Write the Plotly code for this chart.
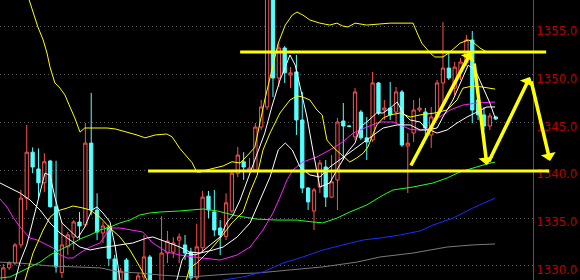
import plotly.graph_objects as go

# ---------------- candle data (index 0..84) ----------------
opens = [1328.3,1329.8,1330.3,1332.2,1337.1,1341.9,1340.15,1338.7,1340.98,1336.2,
         1329.3,1332.0,1333.03,1334.6,1334.3,1342.85,1335.85,1333.45,1334.07,1330.73,
         1328.3,1330.62,1327.7,1327.9,1328.85,1330.94,1327.5,1328.2,1331.35,1331.45,
         1332.7,1332.2,1331.45,1328.75,1331.9,1337.3,1335.65,1333.97,1333.1,1335.75,
         1339.7,1340.9,1340.04,1340.04,1344.53,1346.63,1358.87,1349.66,1352.8,1349.97,
         1350.3,1345.27,1338.15,1335.75,1338.26,1340.35,1337.2,1338.99,1345.16,1344.64,
         1343.5,1346.1,1343.4,1343.18,1349.14,1346.31,1346.52,1346.1,1348.2,1342.55,
         1343.9,1346.31,1346.1,1343.7,1345.58,1349.14,1350.7,1348.6,1350.3,1351.23,
         1353.64,1347.36,1345.8,1344.64,1345.58]
highs = [1330.2,1330.5,1332.4,1337.95,1344.75,1342.4,1342.3,1341.8,1341.1,1341.0,
         1334.6,1333.55,1334.8,1335.65,1344.95,1348.1,1337.6,1334.6,1334.3,1331.15,
         1329.8,1330.83,1327.9,1329.3,1333.24,1331.15,1328.2,1335.2,1333.66,1333.0,
         1333.4,1333.24,1331.9,1334.4,1337.85,1337.85,1337.95,1334.8,1337.6,1340.04,
         1342.45,1341.9,1341.3,1344.95,1347.36,1359.4,1359.4,1353.3,1353.0,1350.8,
         1352.07,1348.2,1338.26,1338.15,1341.08,1341.08,1341.6,1345.48,1347.05,1344.75,
         1348.6,1346.31,1345.58,1350.3,1349.24,1347.36,1349.24,1348.72,1348.4,1343.9,
         1347.36,1347.57,1346.52,1346.63,1349.45,1355.5,1352.28,1351.33,1351.75,1354.16,
         1354.58,1347.67,1346.63,1346.0,1345.7]
lows = [1328.1,1329.6,1330.1,1331.9,1335.85,1339.7,1337.1,1337.75,1336.1,1329.3,
        1328.75,1331.15,1331.67,1332.7,1334.1,1335.3,1332.7,1332.4,1330.0,1328.0,
        1328.0,1327.5,1326.7,1327.7,1328.43,1327.5,1327.3,1328.0,1330.3,1330.83,
        1330.3,1330.62,1328.3,1328.43,1331.45,1335.0,1333.1,1331.15,1332.7,1335.5,
        1339.3,1339.0,1339.8,1339.8,1344.22,1346.31,1347.67,1348.72,1349.14,1348.6,
        1343.7,1337.63,1335.85,1333.76,1337.63,1336.17,1337.1,1335.85,1341.08,1344.5,
        1343.18,1343.18,1341.08,1342.97,1345.8,1345.27,1345.27,1344.95,1342.45,1337.63,
        1342.97,1346.1,1343.18,1342.34,1345.27,1347.05,1349.45,1347.88,1349.45,1350.92,
        1344.95,1345.27,1344.22,1344.22,1345.27]
closes = [1329.8,1330.3,1332.2,1337.1,1341.9,1340.35,1338.7,1340.9,1336.2,1329.9,
          1332.2,1333.25,1334.6,1334.18,1342.85,1335.85,1333.55,1334.18,1330.8,1328.3,
          1329.47,1328.0,1327.0,1328.95,1330.94,1328.0,1328.1,1331.35,1332.6,1332.4,
          1333.03,1331.35,1328.75,1332.0,1337.2,1335.85,1333.76,1333.24,1336.6,1339.7,
          1341.6,1340.35,1340.25,1344.53,1346.63,1358.87,1349.66,1352.8,1350.2,1350.2,
          1345.27,1338.15,1336.7,1337.95,1340.77,1337.2,1338.8,1345.06,1344.64,1344.6,
          1348.2,1343.4,1342.97,1349.14,1346.0,1346.52,1345.8,1348.2,1342.65,1342.85,
          1346.31,1346.52,1344.43,1345.58,1349.14,1350.7,1349.66,1350.8,1351.33,1353.64,
          1346.31,1345.8,1344.64,1345.69,1345.37]
idx = list(range(len(opens)))

# ---------------- indicator lines (x in candle-index units) ----------------
upper_x = [3,4.4,5.07,5.9,6.8,7.45,7.97,8.8,9.67,10.5,11.38,12.2,13.08,13.9,16.0,17.7,19.1,21.1,22.8,24.2,
           25.9,27.9,28.8,30.1,31.3,32.2,33.0,33.6,34.7,37.5,39.0,40.4,41.7,42.9,44.6,45.8,46.9,48.1,49.3,50.1,
           51.1,52.3,54.0,55.7,56.9,57.9,58.8,60.0,62.0,66.0,69.9,70.6,71.4,72.8,73.6,75.0,76.2,77.9,79.3,80.1,
           81.3,82.5,83.9]
upper_y = [1360.5,1357.8,1356.46,1355.0,1353.64,1352.28,1350.8,1349.14,1348.6,1347.9,1346.63,1345.48,1344.0,
           1344.43,1344.43,1344.43,1344.33,1344.0,1343.7,1343.4,1343.7,1343.8,1343.5,1342.3,1341.4,1340.8,1339.83,
           1339.83,1340.04,1340.46,1340.9,1340.77,1341.6,1342.4,1347.36,1350.3,1353.3,1355.2,1356.25,1356.56,
           1356.25,1355.73,1355.4,1355.2,1355.4,1355.1,1355.0,1355.4,1355.2,1355.4,1355.4,1354.37,1353.3,1352.28,
           1351.86,1351.86,1352.38,1353.3,1353.64,1353.43,1352.8,1352.38,1352.38]

mid_x = [2.85,3.7,5.07,6.8,7.97,9.2,10.9,11.9,13.6,14.8,16.5,18.2,19.9,21.6,23.3,24.5,25.9,28.4,30.7,31.8,
         33.0,35.3,37.0,39.0,40.9,42.1,43.3,44.3,45.5,47.2,48.9,50.1,51.1,52.3,53.5,54.4,55.2,56.2,57.4,59.1,
         60.3,61.4,62.2,62.9,63.7,64.8,66.0,67.7,69.4,71.1,73.6,75.7,77.4,78.4,80.1,81.7,83.0,83.9]
mid_y = [1327.5,1328.53,1331.35,1333.76,1335.1,1335.75,1336.06,1336.27,1336.06,1335.85,1335.1,1333.97,1333.03,
         1331.67,1329.9,1328.53,1326.96,1326.4,1327.5,1329.79,1330.3,1331.67,1332.9,1334.5,1335.65,1337.74,1339.5,
         1342.13,1343.9,1346.0,1347.36,1347.78,1347.67,1347.36,1346.31,1345.8,1343.18,1342.45,1341.8,1340.87,
         1341.3,1341.8,1342.45,1343.5,1344.74,1345.48,1345.8,1346.0,1345.58,1345.8,1346.0,1346.31,1347.36,1348.6,
         1348.83,1348.72,1348.6,1348.5]

ma10_x = [-0.56,1.14,2.85,4.55,6.26,7.97,9.67,11.38,13.08,14.8,16.5,19.9,22.1,24.5,25.5,27.9,30.1,31.8,33.6,
          35.8,37.5,39.9,42.1,43.8,45.5,46.9,48.1,49.3,50.6,52.3,54.0,55.7,57.4,59.7,62.0,64.8,67.2,69.4,71.1,
          72.8,74.0,75.7,77.4,79.1,80.8,82.5,83.9]
ma10_y = [1338.68,1338.15,1337.63,1336.9,1335.85,1334.5,1333.45,1332.72,1331.98,1331.67,1331.88,1332.2,1332.4,
          1332.92,1333.03,1332.5,1331.98,1331.46,1331.35,1331.67,1331.98,1333.03,1334.5,1336.9,1339.3,1342.13,
          1342.86,1342.13,1340.35,1339.52,1339.3,1340.35,1341.08,1342.13,1343.18,1344.43,1344.75,1344.75,1344.22,
          1344.22,1343.9,1344.22,1344.95,1345.58,1346.1,1346.63,1346.63]

ma5_x = [1.14,2.0,2.85,4.0,5.07,6.26,7.1,7.97,8.8,10.0,11.7,12.7,13.9,15.1,16.0,17.0,18.2,19.1,19.9,21.1,
         28.4,29.6,30.5,31.3,32.7,33.6,35.3,37.0,38.2,39.2,40.4,41.2,42.6,43.8,44.6,45.8,47.2,48.1,48.9,49.8,
         50.6,51.8,52.8,54.0,55.7,56.9,58.6,60.0,60.9,62.0,63.7,64.8,66.0,67.2,68.2,69.4,71.1,72.3,74.0,75.0,
         76.7,78.4,79.3,80.5,81.8,83.0,83.9]
ma5_y = [1326.46,1328.53,1330.4,1332.2,1334.8,1337.95,1339.7,1339.5,1337.2,1334.5,1333.45,1332.92,1334.07,
         1335.85,1336.17,1335.54,1334.6,1331.98,1328.53,1326.4,1326.4,1328.53,1330.62,1331.35,1331.15,1331.35,
         1332.2,1333.03,1334.6,1335.33,1336.9,1338.26,1340.56,1342.65,1343.9,1346.63,1349.45,1350.8,1352.07,
         1351.0,1348.72,1345.58,1342.13,1338.26,1338.68,1340.04,1341.8,1342.86,1344.53,1345.06,1346.0,1346.0,
         1346.52,1347.15,1346.0,1345.27,1345.06,1344.22,1344.43,1345.58,1347.36,1349.77,1351.0,1350.5,1348.72,
         1347.05,1345.48]

mag_x = [-0.56,0.63,1.65,2.85,4.55,5.75,6.8,8.5,9.67,10.9,11.9,13.08,14.8,16.5,18.2,19.9,23.8,25.5,27.9,30.1,
         32.4,34.1,37.0,39.9,42.1,44.3,46.0,47.2,48.4,49.4,51.1,53.5,55.7,57.9,59.7,62.0,64.3,66.5,69.4,71.1,
         72.8,74.0,76.2,78.4,80.8,83.9]
mag_y = [1337.0,1336.17,1335.1,1334.07,1332.92,1332.72,1332.4,1331.88,1331.15,1330.83,1330.83,1331.35,1331.98,
         1332.4,1333.97,1333.97,1333.55,1332.4,1331.46,1331.15,1330.94,1330.83,1330.62,1331.15,1331.98,1333.76,
         1335.54,1337.2,1339.0,1340.04,1340.87,1341.4,1342.13,1342.97,1343.9,1344.53,1345.06,1345.06,1344.3,
         1344.2,1344.4,1345.4,1346.31,1346.83,1347.05,1347.15]

green_x = [-0.56,1.14,2.85,4.55,6.26,7.97,9.67,11.38,13.08,14.8,16.5,18.2,19.9,21.6,23.3,25.0,26.7,30.1,34.1,
           36.5,39.9,43.3,46.7,50.1,52.8,54.5,56.9,59.1,62.0,64.8,66.5,69.9,73.3,75.7,77.9,80.1,82.5,83.9]
green_y = [1328.74,1328.85,1329.37,1329.9,1330.4,1331.15,1331.67,1332.2,1332.82,1333.24,1333.76,1334.07,1334.5,
           1334.8,1335.33,1335.54,1335.64,1335.75,1335.96,1335.75,1335.23,1334.9,1334.8,1334.8,1334.6,1334.5,
           1335.0,1335.64,1336.38,1337.42,1337.95,1338.26,1338.68,1339.2,1339.83,1340.25,1340.67,1340.87]

blue_x = [31.8,37.5,40.9,44.3,47.7,51.1,54.5,57.9,61.4,64.3,67.7,71.1,73.3,76.7,80.1,83.9]
blue_y = [1327.5,1328.53,1328.85,1329.37,1330.3,1330.94,1331.67,1332.2,1332.72,1332.92,1333.24,1333.66,1334.28,
          1335.0,1336.06,1337.1]

gray_x = [-0.56,2.85,7.97,13.08,16.5,19.9,23.3,26.7,31.8,38.7,43.3,48.9,54.5,60.3,64.3,69.9,75.7,80.1,83.9]
gray_y = [1330.4,1330.3,1330.0,1329.9,1329.8,1329.37,1329.26,1329.05,1328.85,1329.16,1329.26,1329.58,1329.9,
          1330.4,1330.94,1331.35,1331.98,1332.2,1332.3]

# ---------------- drawn annotations ----------------
level_prices = [1352.38, 1339.93]
level_start = [40.4, 24.7]
level_end = [92.6, 93.1]

arrow_tail_x = [69.4, 80.3, 82.7, 90.0]
arrow_tail_y = [1340.35, 1351.33, 1340.77, 1349.45]
arrow_head_x = [79.8, 82.5, 89.85, 93.26]
arrow_head_y = [1352.38, 1340.56, 1349.77, 1340.98]

tick_vals = [1330, 1335, 1340, 1345, 1350, 1355]
tick_text = ["1330.0", "1335.0", "1340.0", "1345.0", "1350.0", "1355.0"]

X_RANGE = [-0.563, 90.36]
Y_RANGE = [1328.53, 1357.82]

RED = "#ff5252"
CYAN = "#54ffff"

fig = go.Figure()
fig.add_trace(go.Candlestick(
    x=idx, open=opens, high=highs, low=lows, close=closes,
    increasing=dict(line=dict(color=RED, width=1), fillcolor="#000000"),
    decreasing=dict(line=dict(color=CYAN, width=1), fillcolor=CYAN),
    whiskerwidth=0, showlegend=False, hoverinfo="skip"))

lines = [
    (gray_x, gray_y, "#7a7a7a"),
    (blue_x, blue_y, "#1a2cff"),
    (green_x, green_y, "#22ff22"),
    (mag_x, mag_y, "#ff22ff"),
    (mid_x, mid_y, "#ffff00"),
    (upper_x, upper_y, "#ffff00"),
    (ma10_x, ma10_y, "#ffffff"),
    (ma5_x, ma5_y, "#ffffff"),
]
for lx, ly, col in lines:
    fig.add_trace(go.Scatter(x=lx, y=ly, mode="lines", line=dict(color=col, width=1),
                             showlegend=False, hoverinfo="skip"))

span = X_RANGE[1] - X_RANGE[0]
shapes = []
for p, s, e in zip(level_prices, level_start, level_end):
    shapes.append(dict(type="line", xref="paper", yref="y",
                       x0=(s - X_RANGE[0]) / span, x1=(e - X_RANGE[0]) / span,
                       y0=p, y1=p, line=dict(color="#ffff00", width=3)))

annotations = []
for tx, ty, hx, hy in zip(arrow_tail_x, arrow_tail_y, arrow_head_x, arrow_head_y):
    annotations.append(dict(x=hx, y=hy, ax=tx, ay=ty, xref="x", yref="y", axref="x", ayref="y",
                            text="", showarrow=True, arrowhead=1, arrowsize=0.72,
                            arrowwidth=3.5, arrowcolor="#ffff00", standoff=0, startstandoff=0))

fig.update_layout(
    width=580, height=280,
    margin=dict(l=0, r=47, t=0, b=0),
    paper_bgcolor="#000000", plot_bgcolor="#000000",
    shapes=shapes, annotations=annotations,
    boxgap=0.2,
    xaxis=dict(range=X_RANGE, visible=False, rangeslider=dict(visible=False), fixedrange=True),
    yaxis=dict(range=Y_RANGE, side="right", tickvals=tick_vals, ticktext=tick_text,
               showgrid=True, gridcolor="#5a5a5a", griddash="1px,3px", gridwidth=1,
               zeroline=False, showline=True, linecolor="#555555", linewidth=1,
               ticks="", ticklabelstandoff=0, ticklabelshift=4,
               tickfont=dict(family="DejaVu Sans, Verdana, sans-serif", size=11.7, color="#b80000"),
               fixedrange=True),
)
fig.write_html("out.html")
